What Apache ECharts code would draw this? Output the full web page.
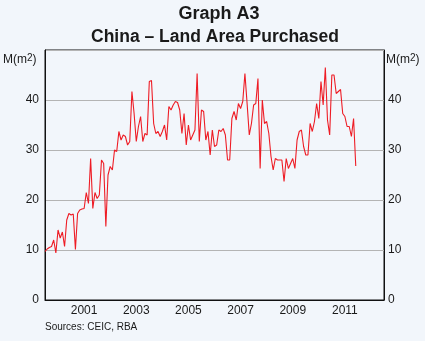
<!DOCTYPE html>
<html>
<head>
<meta charset="utf-8">
<script src="https://cdn.jsdelivr.net/npm/echarts@6/dist/echarts.min.js"></script>
<style>
  html, body { margin: 0; padding: 0; background: #f2f6fb; }
  #chart { width: 425px; height: 341px; }
</style>
</head>
<body>
<div id="chart"></div>
<script>
// Land area purchased in China, monthly, Jan 2000 – Dec 2011, million square metres
const years = ['2000', '2001', '2002', '2003', '2004', '2005', '2006',
               '2007', '2008', '2009', '2010', '2011', '2012'];
const landArea = [
  9.7, 10.2, 10.5, 10.7, 12.0, 9.4, 14.0, 12.4, 13.6, 10.7, 16.0, 17.3,
  17.0, 17.2, 10.1, 17.3, 18.0, 18.2, 18.3, 21.5, 19.3, 28.3, 18.3, 21.5,
  20.3, 21.0, 28.0, 27.3, 14.7, 25.0, 26.7, 26.0, 30.0, 29.7, 33.7, 32.0,
  33.0, 32.7, 31.0, 31.7, 41.7, 37.3, 31.7, 34.7, 36.7, 31.7, 33.3, 33.0,
  43.7, 43.9, 35.3, 33.3, 33.7, 32.7, 33.7, 35.0, 32.0, 38.7, 38.0, 39.0,
  39.7, 39.5, 38.0, 33.3, 37.3, 31.0, 35.0, 32.0, 33.0, 34.0, 45.3, 31.7,
  38.0, 37.7, 32.0, 33.7, 29.0, 34.0, 30.7, 31.0, 34.0, 33.7, 34.3, 33.0,
  28.0, 28.0, 36.3, 37.7, 36.0, 39.3, 38.3, 39.7, 45.3, 39.3, 33.0, 35.3,
  39.0, 39.3, 44.3, 26.3, 40.0, 35.3, 35.7, 33.3, 28.7, 26.0, 28.3, 28.0,
  28.0, 28.0, 23.7, 28.3, 26.3, 27.3, 28.3, 26.3, 32.0, 33.7, 34.0, 30.7,
  29.0, 29.0, 35.3, 33.7, 35.7, 39.3, 36.3, 43.7, 39.0, 46.5, 36.0, 33.0,
  45.0, 45.0, 41.3, 41.7, 42.1, 37.3, 36.7, 34.7, 34.7, 32.7, 36.3, 26.8
];
const yTicks = [0, 10, 20, 30, 40, 50];
const monthsShown = years.length * 12;

const chart = echarts.init(document.getElementById('chart'), null, { renderer: 'canvas' });
const textColor = '#1a1a1a';
const font = 'Arial, "Liberation Sans", Helvetica, sans-serif';

const unitLabel = {
  type: 'text',
  style: {
    text: '{a|M(m}{s|2}{a|)}',
    rich: {
      a: { fontSize: 12, fontFamily: font, fill: textColor, lineHeight: 14 },
      s: { fontSize: 10, fontFamily: font, fill: textColor, lineHeight: 14, verticalAlign: 'top', padding: [0, 0, 6, 0] }
    }
  }
};

chart.setOption({
  backgroundColor: '#f2f6fb',
  animation: false,
  textStyle: { fontFamily: font, color: textColor },
  title: [
    { text: 'Graph A3', left: 214, top: 0, textAlign: 'center',
      textStyle: { fontSize: 18, fontWeight: 'bold', color: textColor, fontFamily: font } },
    { text: 'China – Land Area Purchased', left: 210, top: 23, textAlign: 'center',
      textStyle: { fontSize: 17.5, fontWeight: 'bold', color: textColor, fontFamily: font } }
  ],
  graphic: [
    Object.assign({ left: 3, top: 53 }, unitLabel),
    Object.assign({ left: 386, top: 53 }, unitLabel),
    { type: 'text', left: 45, top: 322,
      style: { text: 'Sources: CEIC, RBA', fontSize: 10, fontFamily: font, fill: textColor } }
  ],
  grid: { left: 45, right: 41, top: 50, bottom: 41, show: true,
          borderColor: '#111', borderWidth: 1, backgroundColor: 'transparent' },
  xAxis: [
    {
      type: 'category', data: years, boundaryGap: true, position: 'bottom',
      axisLine: { lineStyle: { color: '#111', width: 1 } },
      axisTick: { inside: true, length: 5, interval: 0, lineStyle: { color: '#111' } },
      axisLabel: { interval: 0, margin: 5, fontSize: 12, color: textColor,
        formatter: v => (Number(v) % 2 === 1 ? v : '') },
      splitLine: { show: false }
    },
    { type: 'value', min: 0, max: monthsShown, show: false }
  ],
  yAxis: [
    { type: 'value', min: 0, max: 50, interval: 10, position: 'left',
      axisLine: { show: true, lineStyle: { color: '#111' } }, axisTick: { show: false },
      axisLabel: { margin: 6, fontSize: 12, color: textColor,
        formatter: v => (v === yTicks[yTicks.length - 1] ? '' : String(v)) },
      splitLine: { show: true, lineStyle: { color: '#b4b4b4', width: 1 } } },
    { type: 'value', min: 0, max: 50, interval: 10, position: 'right',
      axisLine: { show: true, lineStyle: { color: '#111' } }, axisTick: { show: false },
      axisLabel: { margin: 4, fontSize: 12, color: textColor,
        formatter: v => (v === yTicks[yTicks.length - 1] ? '' : String(v)) },
      splitLine: { show: false } }
  ],
  series: [{
    type: 'line', xAxisIndex: 1, yAxisIndex: 0,
    data: landArea.map((v, i) => [i, v]),
    showSymbol: false, symbol: 'none',
    lineStyle: { color: '#ee1c25', width: 1.1 },
    z: 3
  }]
});
</script>
</body>
</html>
